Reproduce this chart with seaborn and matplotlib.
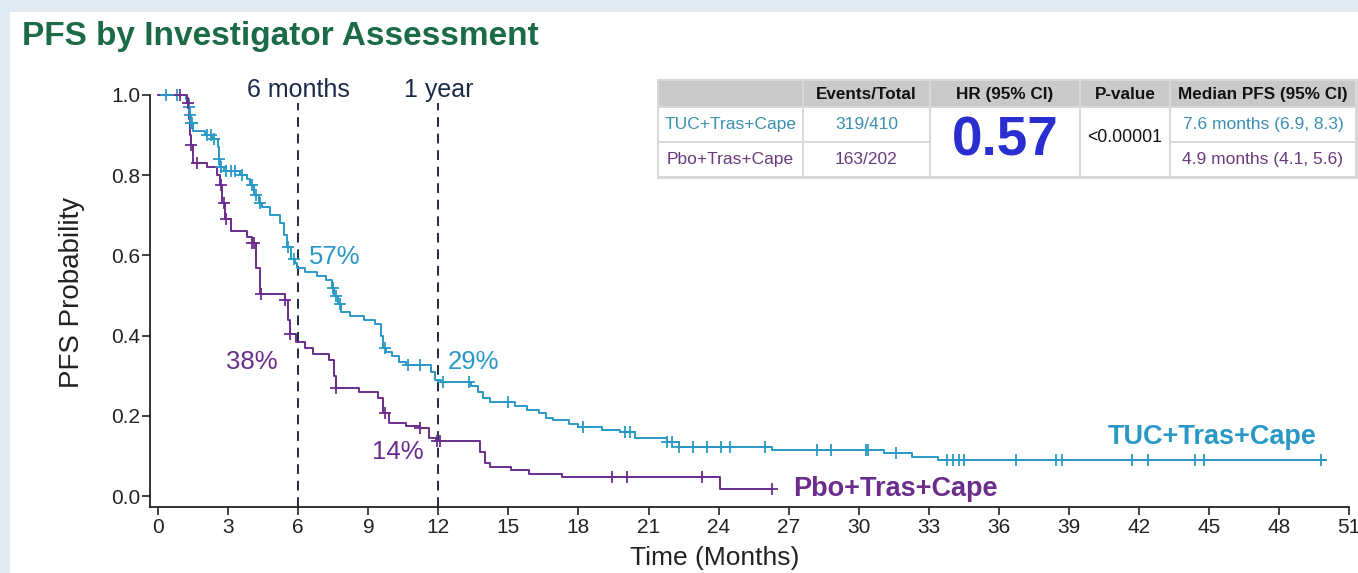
import numpy as np
import pandas as pd
import matplotlib
matplotlib.use("Agg")
import matplotlib.pyplot as plt
from matplotlib.patches import Rectangle
import seaborn as sns

# ---------------- data ----------------
tuc_times = [0, 1.2, 1.3, 1.35, 1.4, 1.5, 2.0, 2.3, 2.55, 2.6, 2.65, 2.8, 3.5, 3.8, 3.95,
             4.1, 4.3, 4.45, 4.8, 5.2, 5.4, 5.5, 5.7, 5.85, 5.95, 6.3, 6.8, 7.2, 7.45, 7.55,
             7.7, 7.85, 8.2, 8.8, 9.3, 9.55, 9.65, 9.75, 10.0, 10.3, 10.6, 11.7, 11.85, 12.1,
             13.4, 13.7, 13.9, 14.2, 15.3, 15.8, 16.3, 16.6, 16.9, 17.6, 18.0, 19.0, 19.8,
             20.4, 21.8, 22.3, 26.3, 31.1, 32.3, 33.4, 50.0]
tuc_surv = [1.0, 0.99, 0.97, 0.95, 0.93, 0.91, 0.90, 0.89, 0.87, 0.84, 0.82, 0.81, 0.80, 0.79, 0.775,
            0.75, 0.73, 0.72, 0.70, 0.68, 0.65, 0.62, 0.59, 0.58, 0.57, 0.56, 0.55, 0.54, 0.52, 0.50,
            0.48, 0.46, 0.45, 0.44, 0.43, 0.40, 0.37, 0.36, 0.35, 0.335, 0.327, 0.31, 0.29, 0.285,
            0.275, 0.26, 0.245, 0.235, 0.225, 0.215, 0.207, 0.195, 0.19, 0.18, 0.172, 0.165, 0.16,
            0.145, 0.135, 0.122, 0.115, 0.107, 0.097, 0.09, 0.09]
tuc_censor = [0.35, 0.8, 1.32, 1.37, 1.42, 1.47, 2.1, 2.25, 2.4, 2.62, 2.7, 2.9, 3.1, 3.3, 3.6,
              4.0, 4.2, 4.35, 5.55, 5.8, 7.5, 7.6, 7.8, 9.7, 10.7, 11.2, 12.2, 13.3, 15.0,
              18.2, 20.0, 20.2, 21.8, 22.0, 22.3, 22.9, 23.5, 24.1, 24.5, 26.0, 28.2, 28.8,
              30.3, 30.4, 31.6, 33.8, 34.05, 34.3, 34.5, 36.75, 38.45, 38.7, 41.7, 42.4,
              44.4, 44.8, 49.8]

pbo_times = [0, 1.25, 1.3, 1.35, 1.4, 1.5, 2.1, 2.5, 2.65, 2.75, 2.85, 3.1, 3.8, 4.0, 4.2,
             4.35, 5.45, 5.55, 5.65, 5.9, 6.3, 6.65, 7.3, 7.55, 7.6, 8.6, 9.4, 9.65, 9.9,
             10.6, 11.2, 11.6, 11.9, 13.8, 14.0, 14.2, 15.1, 15.9, 17.3, 24.05, 26.3]
pbo_surv = [1.0, 0.98, 0.94, 0.90, 0.875, 0.83, 0.82, 0.80, 0.775, 0.73, 0.69, 0.66, 0.645, 0.63, 0.57,
            0.505, 0.49, 0.44, 0.405, 0.385, 0.37, 0.355, 0.34, 0.30, 0.27, 0.26, 0.245, 0.207, 0.182,
            0.175, 0.17, 0.145, 0.137, 0.11, 0.082, 0.072, 0.065, 0.055, 0.047, 0.017, 0.017]
pbo_censor = [0.95, 1.27, 1.42, 1.65, 2.7, 2.8, 2.9, 4.0, 4.1, 4.4, 5.45, 5.65, 7.6, 9.7,
              11.2, 11.95, 12.05, 19.45, 20.1, 23.3, 26.3]

x_ticks = list(range(0, 52, 3))
y_ticks = [0.0, 0.2, 0.4, 0.6, 0.8, 1.0]

groups = ["TUC+Tras+Cape", "Pbo+Tras+Cape"]
events_total = ["319/410", "163/202"]
hr_text = "0.57"
p_text = "<0.00001"
median_text = ["7.6 months (6.9, 8.3)", "4.9 months (4.1, 5.6)"]
headers = ["", "Events/Total", "HR (95% CI)", "P-value", "Median PFS (95% CI)"]

milestones = [6, 12]
milestone_labels = ["6 months", "1 year"]

# ---------------- style ----------------
sns.set_style("ticks")
plt.rcParams["font.family"] = ["Liberation Sans", "DejaVu Sans"]

BLUE = "#2a98c6"
PURPLE = "#6b2d8c"
NAVY = "#1c2a4a"
GREEN = "#1b6b47"
BG = "#e3ebf2"

W, H = 1358, 573
fig = plt.figure(figsize=(W / 100, H / 100), dpi=100, facecolor=BG)
fig.patches.append(Rectangle((10 / W, 0), 1 - 10 / W, (H - 12) / H, transform=fig.transFigure,
                             facecolor="white", edgecolor="none", zorder=-10))

def fx(px):
    return px / W

def fy(py):
    return 1 - py / H

ax = fig.add_axes([fx(150), fy(507), fx(1349) - fx(150), fy(95) - fy(507)])
ax.set_facecolor("none")

def step_df(times, surv):
    return pd.DataFrame({"t": times, "s": surv})

def censor_y(times, surv, cens):
    t = np.asarray(times)
    s = np.asarray(surv)
    idx = np.searchsorted(t, np.asarray(cens), side="right") - 1
    return s[idx]

for times, surv, cens, col in [(tuc_times, tuc_surv, tuc_censor, BLUE),
                               (pbo_times, pbo_surv, pbo_censor, PURPLE)]:
    d = step_df(times, surv)
    sns.lineplot(data=d, x="t", y="s", ax=ax, color=col, linewidth=1.4,
                 drawstyle="steps-post", estimator=None, sort=False, clip_on=False)
    sns.scatterplot(x=cens, y=censor_y(times, surv, cens), ax=ax, marker="+", color=col,
                    s=70, linewidth=1.3, clip_on=False, zorder=4)

ax.set_xlim(-0.35, 51)
ax.set_ylim(-0.027, 1.0)
ax.set_xticks(x_ticks)
ax.set_yticks(y_ticks)
ax.set_yticklabels([f"{v:.1f}" for v in y_ticks])
ax.tick_params(axis="both", labelsize=15, colors="#222222", length=6, width=1.2, direction="out")
ax.tick_params(axis="x", pad=2)
ax.tick_params(axis="y", pad=1)
for sp in ["left", "bottom"]:
    ax.spines[sp].set_linewidth(1.3)
    ax.spines[sp].set_color("#222222")
sns.despine(ax=ax)
ax.set_xlabel("Time (Months)", fontsize=19, color="#222222")
ax.set_ylabel("PFS Probability", fontsize=20, color="#222222")
ax.xaxis.set_label_coords((715 - 150) / 1199, (507 - 558) / 412)
ax.yaxis.set_label_coords((72 - 150) / 1199, (507 - 292) / 412)
ax.xaxis.label.set_va("center")
ax.yaxis.label.set_va("center")

for m, lab in zip(milestones, milestone_labels):
    ax.plot([m, m], [-0.027, 0.98], color=NAVY, linestyle=(0, (5, 3.5)), linewidth=1.4, zorder=1)
    ax.text(m, 1.012, lab, ha="center", va="center", fontsize=18, color=NAVY)

ax.text(6.45, 0.596, "57%", ha="left", va="center", fontsize=18.5, color=BLUE)
ax.text(12.4, 0.334, "29%", ha="left", va="center", fontsize=18.5, color=BLUE)
ax.text(5.1, 0.334, "38%", ha="right", va="center", fontsize=18.5, color=PURPLE)
ax.text(11.35, 0.11, "14%", ha="right", va="center", fontsize=18.5, color=PURPLE)
ax.text(49.6, 0.147, groups[0], ha="right", va="center", fontsize=19.5, fontweight="bold", color=BLUE)
ax.text(27.2, 0.017, groups[1], ha="left", va="center", fontsize=19.5, fontweight="bold", color=PURPLE)

fig.text(fx(22), fy(36), "PFS by Investigator Assessment", fontsize=24, fontweight="bold",
         color=GREEN, ha="left", va="center")

# ---------------- table ----------------
tx = fig.add_axes([0, 0, 1, 1])
tx.set_xlim(0, W)
tx.set_ylim(H, 0)
tx.axis("off")
tx.patch.set_alpha(0)

cols = [658, 803, 930, 1080, 1170, 1356]
rows = [80, 107, 142, 177]
narrow = ["Liberation Sans Narrow", "Liberation Sans", "DejaVu Sans"]
HEAD = "#c9c9c9"
TBLUE = "#3b8fb3"
TPURP = "#6a3a7c"

tx.add_patch(Rectangle((cols[0] - 1, rows[0] - 1), cols[-1] - cols[0] + 3, rows[-1] - rows[0] + 3,
                       facecolor="#d8d8d8", edgecolor="none", zorder=1))
for i in range(5):
    tx.add_patch(Rectangle((cols[i] + 1, rows[0] + 1), cols[i + 1] - cols[i] - 2, rows[1] - rows[0] - 2,
                           facecolor=HEAD, edgecolor="none", zorder=2))
    if headers[i]:
        tx.text((cols[i] + cols[i + 1]) / 2, (rows[0] + rows[1]) / 2 + 1, headers[i], ha="center",
                va="center", fontsize=12.3, fontweight="bold", family=narrow, color="#111111", zorder=3)
for r in range(2):
    for i in [0, 1, 4]:
        tx.add_patch(Rectangle((cols[i] + 1, rows[r + 1] + 1), cols[i + 1] - cols[i] - 2,
                               rows[r + 2] - rows[r + 1] - 2, facecolor="white", edgecolor="none", zorder=2))
    c = TBLUE if r == 0 else TPURP
    yc = (rows[r + 1] + rows[r + 2]) / 2
    tx.text((cols[0] + cols[1]) / 2, yc, groups[r], ha="center", va="center", fontsize=12.5,
            family=narrow, color=c, zorder=3)
    tx.text((cols[1] + cols[2]) / 2, yc, events_total[r], ha="center", va="center", fontsize=12.5,
            family=narrow, color=c, zorder=3)
    tx.text((cols[4] + cols[5]) / 2, yc, median_text[r], ha="center", va="center", fontsize=12.5,
            family=narrow, color=c, zorder=3)
for i in [2, 3]:
    tx.add_patch(Rectangle((cols[i] + 1, rows[1] + 1), cols[i + 1] - cols[i] - 2, rows[3] - rows[1] - 2,
                           facecolor="white", edgecolor="none", zorder=2))
tx.text((cols[2] + cols[3]) / 2, (rows[1] + rows[3]) / 2, hr_text, ha="center", va="center",
        fontsize=39.5, fontweight="bold", color="#2a2ed0", zorder=3)
tx.text((cols[3] + cols[4]) / 2, (rows[1] + rows[3]) / 2 - 4, p_text, ha="center", va="center",
        fontsize=12.7, family=narrow, color="#111111", zorder=3)

fig.savefig("out.png", dpi=100, facecolor=BG)
